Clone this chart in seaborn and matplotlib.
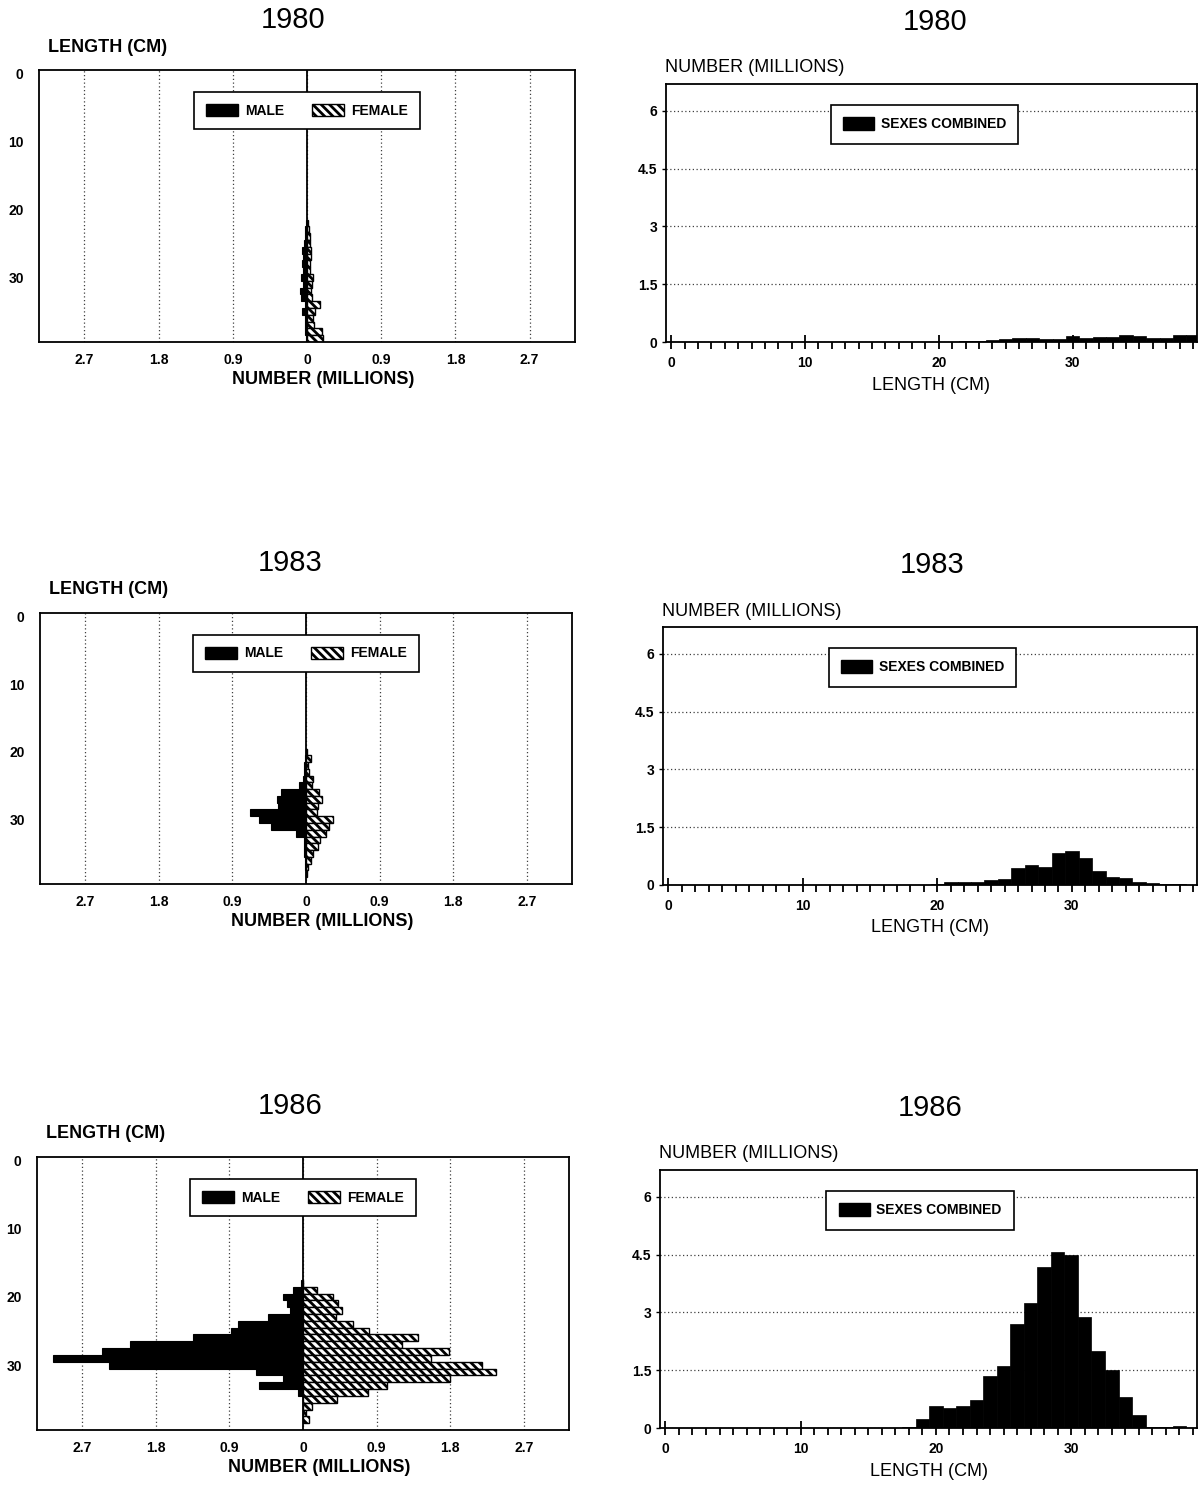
import matplotlib
matplotlib.use('Agg')
import matplotlib.pyplot as plt
import seaborn as sns
import pandas as pd
from matplotlib.patches import Patch
from matplotlib.ticker import MultipleLocator

# ---- data, number in millions by 1 cm length class ----
years = ['1980', '1983', '1986']

len_80 = list(range(22, 40))
male_80 = [0.01, 0.02, 0.03, 0.04, 0.06, 0.05, 0.06, 0.05, 0.07, 0.05, 0.08, 0.07, 0.03, 0.06, 0.03, 0.02, 0.02, 0.01]
female_80 = [0.01, 0.02, 0.04, 0.04, 0.05, 0.05, 0.04, 0.04, 0.07, 0.06, 0.05, 0.06, 0.16, 0.10, 0.07, 0.09, 0.18, 0.20]
comb_80 = [0.02, 0.03, 0.05, 0.07, 0.10, 0.10, 0.08, 0.08, 0.15, 0.10, 0.13, 0.13, 0.19, 0.15, 0.10, 0.10, 0.18, 0.18]

len_83 = list(range(20, 39))
male_83 = [0.0, 0.01, 0.02, 0.03, 0.04, 0.09, 0.30, 0.35, 0.34, 0.69, 0.58, 0.43, 0.12, 0.03, 0.03, 0.02, 0.01, 0.01, 0.0]
female_83 = [0.01, 0.06, 0.03, 0.04, 0.09, 0.07, 0.16, 0.19, 0.15, 0.13, 0.33, 0.28, 0.24, 0.17, 0.15, 0.09, 0.06, 0.03, 0.01]
comb_83 = [0.02, 0.07, 0.07, 0.07, 0.13, 0.16, 0.45, 0.52, 0.48, 0.82, 0.89, 0.71, 0.37, 0.22, 0.19, 0.08, 0.05, 0.03, 0.02]

len_86 = list(range(18, 39))
male_86 = [0.03, 0.12, 0.25, 0.19, 0.16, 0.43, 0.80, 0.88, 1.35, 2.11, 2.45, 3.06, 2.37, 0.57, 0.25, 0.54, 0.06, 0.0, 0.0, 0.0, 0.0]
female_86 = [0.0, 0.17, 0.37, 0.43, 0.48, 0.40, 0.61, 0.81, 1.41, 1.21, 1.78, 1.57, 2.19, 2.36, 1.80, 1.03, 0.79, 0.41, 0.11, 0.04, 0.07]
comb_86 = [0.03, 0.23, 0.57, 0.53, 0.57, 0.74, 1.35, 1.62, 2.70, 3.24, 4.19, 4.56, 4.50, 2.87, 2.00, 1.51, 0.80, 0.34, 0.03, 0.02, 0.04]

pyr_ticks = [-2.7, -1.8, -0.9, 0, 0.9, 1.8, 2.7]
pyr_ticklabels = ['2.7', '1.8', '0.9', '0', '0.9', '1.8', '2.7']
num_ticks = [0, 1.5, 3, 4.5, 6]
num_ticklabels = ['0', '1.5', '3', '4.5', '6']

data = {
    '1980': (len_80, male_80, female_80, comb_80),
    '1983': (len_83, male_83, female_83, comb_83),
    '1986': (len_86, male_86, female_86, comb_86),
}

sns.set_style('white')
plt.rcParams['font.family'] = ['Liberation Sans', 'DejaVu Sans']
plt.rcParams['hatch.linewidth'] = 2.0
plt.rcParams['text.color'] = 'black'
plt.rcParams['axes.labelcolor'] = 'black'
plt.rcParams['xtick.color'] = 'black'
plt.rcParams['ytick.color'] = 'black'

W, H = 1198, 1485
fig = plt.figure(figsize=(W / 100, H / 100), dpi=100)
HATCH = '\\\\\\\\'


def px_axes(left, top, right, bottom):
    return fig.add_axes([left / W, 1 - bottom / H, (right - left) / W, (bottom - top) / H])


def ftext(x, y, s, **kw):
    fig.text(x / W, 1 - y / H, s, **kw)


# pixel layout per row: left pyramid box, right histogram box, text anchors
left_box = [(39, 70, 575, 342), (40, 613, 572, 884), (37, 1157, 569, 1430)]
right_box = [(666, 84, 1197, 342), (663, 627, 1197, 885), (660, 1170, 1197, 1428)]
left_title = [(293, 20), (290, 563), (290, 1106)]
right_title = [(935, 22), (932, 565), (930, 1108)]

for i, yr in enumerate(years):
    lengths, male, female, comb = data[yr]

    # ---------- population pyramid ----------
    ax = px_axes(*left_box[i])
    df = pd.DataFrame({'length': lengths,
                       'male': [-v for v in male],
                       'female': female})
    sns.barplot(data=df, x='male', y='length', orient='y', native_scale=True, width=1,
                color='black', saturation=1, edgecolor='black', linewidth=0.8,
                errorbar=None, ax=ax, zorder=2)
    sns.barplot(data=df, x='female', y='length', orient='y', native_scale=True, width=1,
                color='white', saturation=1, edgecolor='black', linewidth=1.0,
                hatch=HATCH, errorbar=None, ax=ax, zorder=2)
    ax.axvline(0, color='black', lw=1.3, zorder=3)
    ax.set_xlim(-3.25, 3.25)
    ax.set_ylim(39.5, -0.5)
    ax.set_xticks(pyr_ticks)
    ax.set_xticklabels(pyr_ticklabels)
    ax.set_yticks([0, 10, 20, 30])
    ax.set_yticklabels(['0', '10', '20', '30'])
    ax.tick_params(axis='both', length=0, labelsize=10)
    ax.tick_params(axis='y', pad=11)
    ax.tick_params(axis='x', pad=8)
    for lab in ax.get_xticklabels() + ax.get_yticklabels():
        lab.set_fontweight('bold')
    ax.grid(axis='x', linestyle=(0, (1, 2)), color='0.25', linewidth=0.9)
    ax.grid(axis='y', visible=False)
    ax.set_axisbelow(True)
    ax.set_xlabel('')
    ax.set_ylabel('')
    for sp in ax.spines.values():
        sp.set_visible(True)
        sp.set_color('black')
        sp.set_linewidth(1.3)
    leg = ax.legend(handles=[Patch(facecolor='black', edgecolor='black', label='MALE'),
                             Patch(facecolor='white', edgecolor='black', hatch=HATCH, label='FEMALE')],
                    loc='upper center', bbox_to_anchor=(0.5, 0.92), borderaxespad=0,
                    ncol=2, frameon=True, fancybox=False, framealpha=1, edgecolor='black',
                    handlelength=2.3, handleheight=1.0, handletextpad=0.5, columnspacing=2.0,
                    borderpad=0.85, prop={'weight': 'bold', 'size': 10})
    leg.get_frame().set_linewidth(1.2)
    leg.set_zorder(5)

    lx0, ly0, lx1, ly1 = left_box[i]
    ftext(left_title[i][0], left_title[i][1], yr, ha='center', va='center', fontsize=21)
    ftext(lx0 + 9, ly0 - 23, 'LENGTH (CM)', ha='left', va='center', fontsize=13, fontweight='bold')
    ftext((lx0 + lx1) / 2 + 16, ly1 + 38, 'NUMBER (MILLIONS)', ha='center', va='center',
          fontsize=13, fontweight='bold')

    # ---------- sexes combined histogram ----------
    ax2 = px_axes(*right_box[i])
    sns.histplot(x=lengths, weights=comb, discrete=True, color='black', alpha=1,
                 edgecolor='black', linewidth=0.5, ax=ax2, zorder=2)
    ax2.set_xlim(-0.4, 39.3)
    ax2.set_ylim(0, 6.7)
    ax2.set_yticks(num_ticks)
    ax2.set_yticklabels(num_ticklabels)
    ax2.set_xticks([0, 10, 20, 30])
    ax2.set_xticklabels(['0', '10', '20', '30'])
    ax2.xaxis.set_minor_locator(MultipleLocator(1))
    ax2.tick_params(axis='x', which='major', direction='inout', length=10, width=1.3,
                    color='black', labelsize=10, pad=5, bottom=True)
    ax2.tick_params(axis='x', which='minor', direction='out', length=5, width=1.3,
                    color='black', bottom=True)
    ax2.tick_params(axis='y', which='major', direction='out', length=3, width=1.0,
                    color='black', labelsize=10, pad=3, left=True)
    for lab in ax2.get_xticklabels() + ax2.get_yticklabels():
        lab.set_fontweight('bold')
    ax2.grid(axis='y', linestyle=(0, (1, 2)), color='0.25', linewidth=0.9)
    ax2.grid(axis='x', visible=False)
    ax2.set_axisbelow(True)
    ax2.set_xlabel('')
    ax2.set_ylabel('')
    for sp in ax2.spines.values():
        sp.set_visible(True)
        sp.set_color('black')
        sp.set_linewidth(1.3)
    leg2 = ax2.legend(handles=[Patch(facecolor='black', edgecolor='black', label='SEXES COMBINED')],
                      loc='upper left', bbox_to_anchor=(0.31, 0.92), borderaxespad=0,
                      frameon=True, fancybox=False, framealpha=1, edgecolor='black',
                      handlelength=2.2, handleheight=1.0, handletextpad=0.5,
                      borderpad=0.9, prop={'weight': 'bold', 'size': 10})
    leg2.get_frame().set_linewidth(1.2)

    rx0, ry0, rx1, ry1 = right_box[i]
    ftext(right_title[i][0], right_title[i][1], yr, ha='center', va='center', fontsize=21)
    ftext(rx0 - 1, ry0 - 16, 'NUMBER (MILLIONS)', ha='left', va='center', fontsize=13)
    ftext((rx0 + rx1) / 2, ry1 + 43, 'LENGTH (CM)', ha='center', va='center', fontsize=13)

fig.savefig('out.png', dpi=100, facecolor='white')
